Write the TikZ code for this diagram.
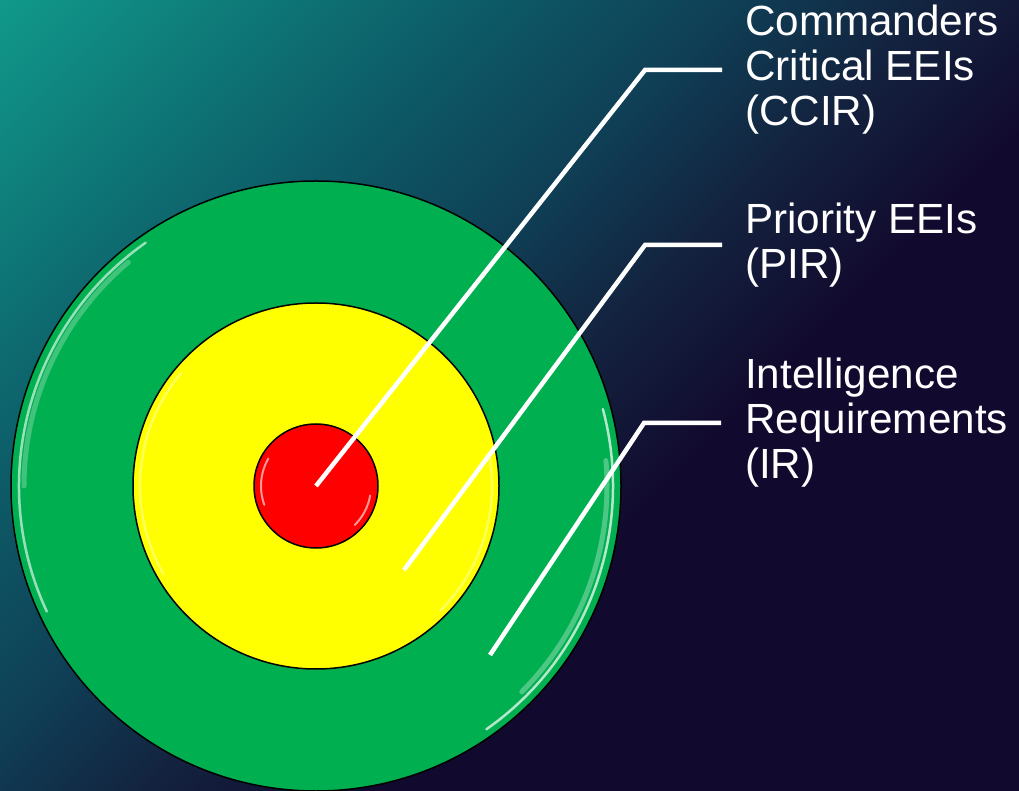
\documentclass[tikz,border=0pt]{standalone}
\usepackage{fontspec}
\setmainfont{Liberation Sans}
\usetikzlibrary{positioning}

\definecolor{bgteal}{HTML}{10998B}
\definecolor{bgmid}{HTML}{0D5A66}
\definecolor{bgblue}{HTML}{0F3E55}
\definecolor{bgnavy}{HTML}{13233F}
\definecolor{bgdark}{HTML}{120A2E}
\definecolor{ringgreen}{HTML}{00B050}
\definecolor{ringyellow}{HTML}{FFFF00}
\definecolor{ringred}{HTML}{FF0000}
\pgfdeclarehorizontalshading{bgfade}{100bp}{color(0bp)=(bgteal); color(19bp)=(bgteal); color(36bp)=(bgmid); color(44.5bp)=(bgblue); color(51bp)=(bgnavy); color(58.5bp)=(bgdark); color(100bp)=(bgdark)}

\tikzset{
  ring/.style={circle, draw=black, line width=1.5pt, inner sep=0pt},
  leader/.style={draw=white, line width=4.5pt},
  lbl/.style={align=left, inner sep=0pt, text=white, font=\fontsize{42.2}{45}\selectfont},
  shine/.style={white, line width=2.5pt, opacity=0.5, line cap=round}
}

\begin{document}
\begin{tikzpicture}[x=1pt,y=1pt]
  \useasboundingbox (0,0) rectangle (1019,790);
  \begin{scope}
    \clip (0,0) rectangle (1019,790);
    % background
    \shade[shading=bgfade, shading angle=-45] (-10.5,-125) rectangle (1029.5,915);
    % target rings
    \node[ring, fill=ringgreen, minimum size=610pt] (ir) at (316,304) {};
    \draw[shine, opacity=0.6] ([shift={(125:297)}]ir.center) arc[start angle=125, end angle=205, radius=297];
    \draw[shine, opacity=0.25, line width=5pt] ([shift={(130:292)}]ir.center) arc[start angle=130, end angle=180, radius=292];
    \draw[shine, opacity=0.7] ([shift={(15:297)}]ir.center) arc[start angle=15, end angle=-55, radius=297];
    \draw[shine, opacity=0.3, line width=5pt] ([shift={(5:291)}]ir.center) arc[start angle=5, end angle=-45, radius=291];
    \node[ring, fill=ringyellow, minimum size=366pt] (pir) at (316,304) {};
    \draw[shine, opacity=0.35] ([shift={(140:176)}]pir.center) arc[start angle=140, end angle=210, radius=176];
    \draw[shine, opacity=0.35] ([shift={(10:176)}]pir.center) arc[start angle=10, end angle=-45, radius=176];
    \node[ring, fill=ringred, minimum size=124pt] (ccir) at (316,304) {};
    \draw[shine, opacity=0.6, line width=2pt] ([shift={(150:55)}]ccir.center) arc[start angle=150, end angle=200, radius=55];
    \draw[shine, opacity=0.6, line width=2pt] ([shift={(-10:55)}]ccir.center) arc[start angle=-10, end angle=-45, radius=55];
  \end{scope}

  % leader points
  \coordinate (ccbend) at (645,720);
  \coordinate (pirpt) at (404,220);
  \coordinate (pirbend) at (645,545);
  \coordinate (irpt) at (490,135);
  \coordinate (irbend) at (644,367);

  % labels
  \node[lbl, right=100pt of ccbend] (ccirtext) {Commanders\\Critical EEIs\\(CCIR)};
  \node[lbl, right=100pt of pirbend] (pirtext) {Priority EEIs\\(PIR)};
  \node[lbl, right=101pt of irbend] (irtext) {Intelligence\\Requirements\\(IR)};

  % leaders
  \draw[leader, shorten >=23pt] (ccir.center) -- (ccbend) -- (ccirtext.west);
  \draw[leader, shorten >=23pt] (pirpt) -- (pirbend) -- (pirtext.west);
  \draw[leader, shorten >=24pt] (irpt) -- (irbend) -- (irtext.west);
\end{tikzpicture}
\end{document}
